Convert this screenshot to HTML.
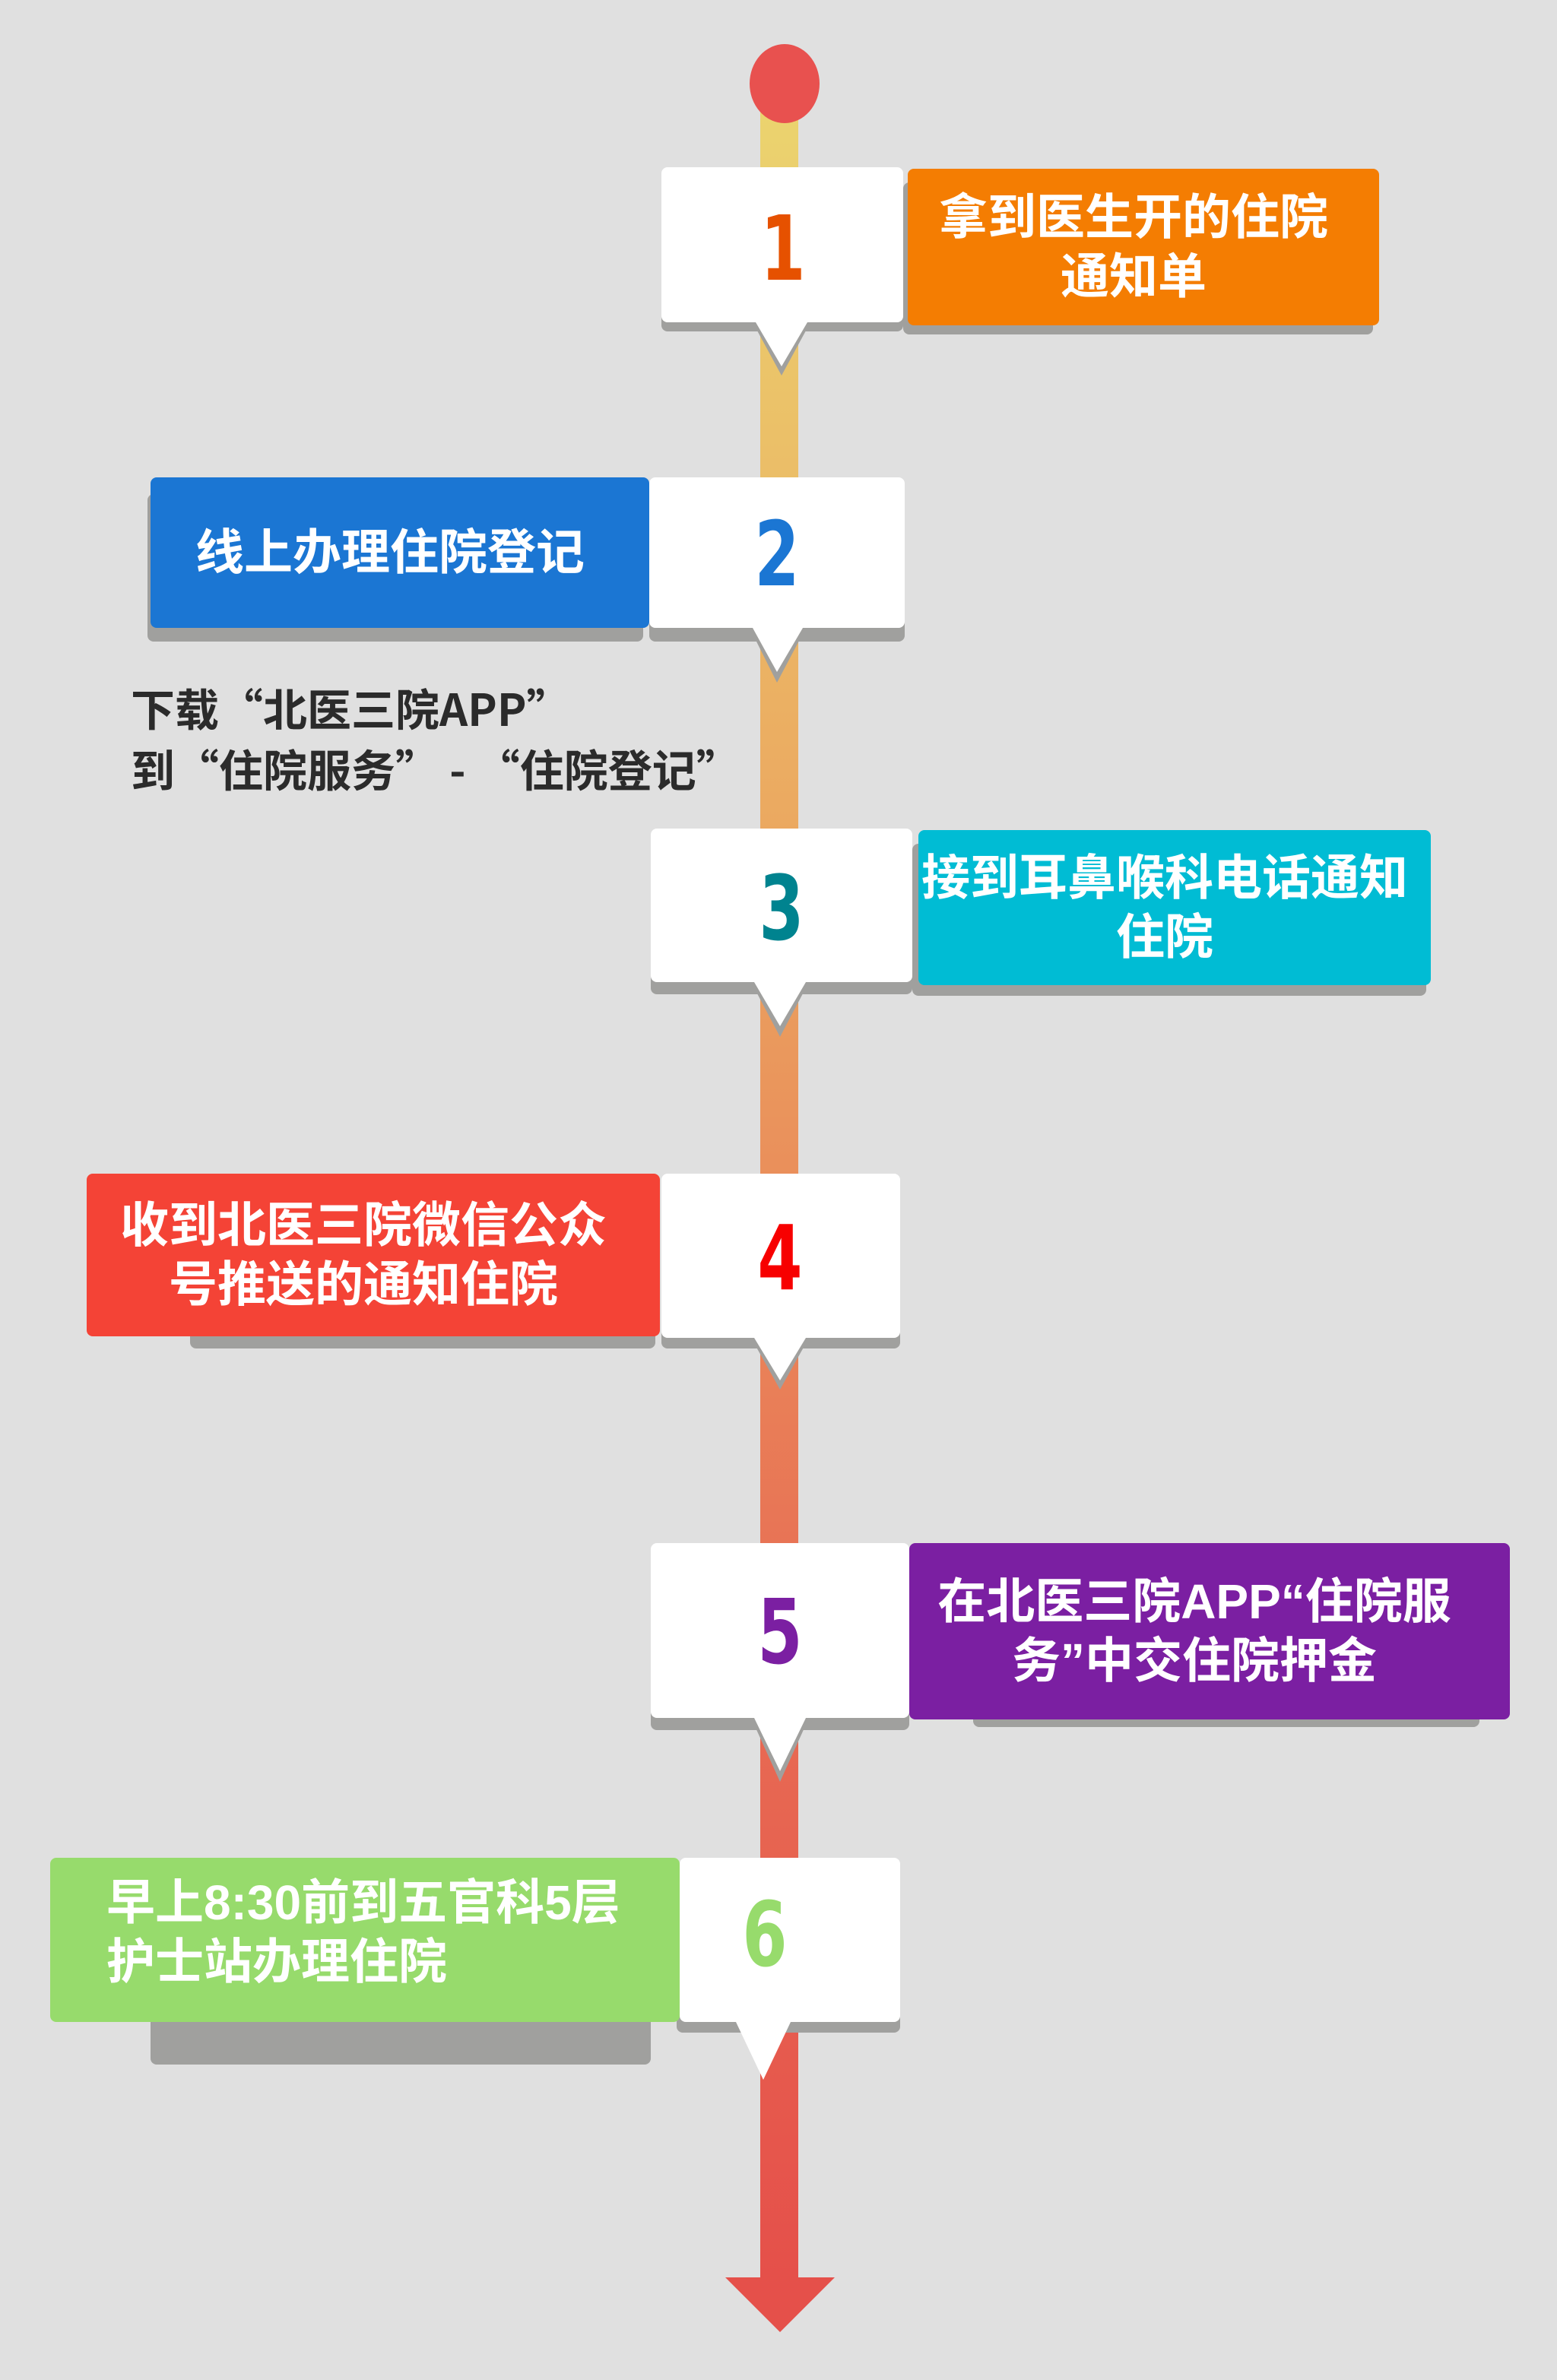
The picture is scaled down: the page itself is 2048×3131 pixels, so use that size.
<!DOCTYPE html>
<html><head><meta charset="utf-8"><style>
*{margin:0;padding:0;box-sizing:border-box}
body{width:2048px;height:3131px;background:#e0e0e0;position:relative;overflow:hidden;font-family:"Liberation Sans","Noto Sans CJK SC",sans-serif}
.a{position:absolute}
.sh{position:absolute;background:#a0a09e;border-radius:8px}
.card{position:absolute;background:#fff;border-radius:8px}
.box{position:absolute;border-radius:8px;color:#fff;font-weight:bold;font-size:64px;line-height:78px;display:flex;align-items:center;justify-content:center;text-align:center;padding-right:26px;white-space:nowrap}
.num{position:absolute;font-family:"DejaVu Sans","Liberation Sans",sans-serif;font-weight:bold;font-size:118px;line-height:1;text-align:center;transform:scaleX(0.72)}
.note{position:absolute;left:172px;top:890px;color:#2b2b2b;font-size:58px;line-height:80px;font-weight:bold;font-family:"Noto Sans CJK SC",sans-serif;white-space:nowrap}
</style></head><body>
<svg class="a" style="left:0;top:0" width="2048" height="3131">
<defs><linearGradient id="g" x1="0" y1="0" x2="0" y2="1">
<stop offset="0" stop-color="#ebd56f"/><stop offset="0.35" stop-color="#eba760"/><stop offset="0.7" stop-color="#e86e54"/><stop offset="1" stop-color="#e5504a"/></linearGradient></defs>
<rect x="1000" y="110" width="50" height="2890" fill="url(#g)"/>
<polygon points="954,2996 1098,2996 1026,3068" fill="#e5504a"/>
<ellipse cx="1032" cy="110" rx="46" ry="52" fill="#e8514f"/>
</svg>

<!-- 1 -->
<div class="sh" style="left:870px;top:240px;width:318px;height:196px"></div>
<div class="sh" style="left:1188px;top:240px;width:618px;height:200px"></div>
<div class="card" style="left:870px;top:220px;width:318px;height:204px"></div>
<div class="box" style="left:1194px;top:222px;width:620px;height:206px;background:#f47d02">拿到医生开的住院<br>通知单</div>
<div class="num" style="left:930px;top:268px;width:200px;color:#e65100">1</div>

<!-- 2 -->
<div class="sh" style="left:194px;top:650px;width:652px;height:194px"></div>
<div class="sh" style="left:854px;top:650px;width:336px;height:194px"></div>
<div class="box" style="left:198px;top:628px;width:656px;height:198px;background:#1b76d3">线上办理住院登记</div>
<div class="card" style="left:854px;top:628px;width:336px;height:198px"></div>
<div class="num" style="left:922px;top:670px;width:200px;color:#1b76d3">2</div>
<div class="note">下载“北医三院APP”<br>到“住院服务” - “住院登记”</div>

<!-- 3 -->
<div class="sh" style="left:856px;top:1110px;width:344px;height:198px"></div>
<div class="sh" style="left:1200px;top:1110px;width:676px;height:200px"></div>
<div class="card" style="left:856px;top:1090px;width:344px;height:202px"></div>
<div class="box" style="left:1208px;top:1092px;width:674px;height:204px;background:#00bcd4">接到耳鼻喉科电话通知<br>住院</div>
<div class="num" style="left:928px;top:1136px;width:200px;color:#00838f">3</div>

<!-- 4 -->
<div class="sh" style="left:250px;top:1590px;width:612px;height:184px"></div>
<div class="sh" style="left:870px;top:1570px;width:314px;height:204px"></div>
<div class="box" style="left:114px;top:1544px;width:754px;height:214px;background:#f44336">收到北医三院微信公众<br>号推送的通知住院</div>
<div class="card" style="left:870px;top:1544px;width:314px;height:216px"></div>
<div class="num" style="left:926px;top:1596px;width:200px;color:#f70000">4</div>

<!-- 5 -->
<div class="sh" style="left:856px;top:2060px;width:340px;height:216px"></div>
<div class="sh" style="left:1280px;top:2080px;width:666px;height:192px"></div>
<div class="card" style="left:856px;top:2030px;width:340px;height:230px"></div>
<div class="box" style="left:1196px;top:2030px;width:790px;height:232px;background:#7b1fa2;padding-right:40px">在北医三院APP“住院服<br>务”中交住院押金</div>
<div class="num" style="left:926px;top:2088px;width:200px;color:#7b1fa2">5</div>

<!-- 6 -->
<div class="sh" style="left:198px;top:2560px;width:658px;height:156px"></div>
<div class="sh" style="left:890px;top:2560px;width:294px;height:114px"></div>
<div class="box" style="left:66px;top:2444px;width:828px;height:216px;background:#97db6c;justify-content:flex-start;align-items:flex-start;text-align:left;padding:20px 0 0 74px">早上8:30前到五官科5层<br>护士站办理住院</div>
<div class="card" style="left:894px;top:2444px;width:290px;height:216px"></div>
<div class="num" style="left:906px;top:2486px;width:200px;color:#97db6c">6</div>

<svg class="a" style="left:0;top:0;pointer-events:none" width="2048" height="3131">
<polygon points="990,424 1066,424 1028,494" fill="#a0a09e"/>
<polygon points="994,424 1062,424 1028,482" fill="#fff"/>
<polygon points="986,826 1060,826 1022,898" fill="#a0a09e"/>
<polygon points="990,826 1056,826 1022,884" fill="#fff"/>
<polygon points="988,1292 1064,1292 1026,1364" fill="#a0a09e"/>
<polygon points="992,1292 1060,1292 1026,1350" fill="#fff"/>
<polygon points="988,1760 1064,1760 1026,1828" fill="#a0a09e"/>
<polygon points="992,1760 1060,1760 1026,1816" fill="#fff"/>
<polygon points="988,2260 1064,2260 1026,2344" fill="#a0a09e"/>
<polygon points="992,2260 1060,2260 1026,2330" fill="#fff"/>
<polygon points="968,2660 1040,2660 1004,2736" fill="#fff"/>
</svg>
</body></html>
